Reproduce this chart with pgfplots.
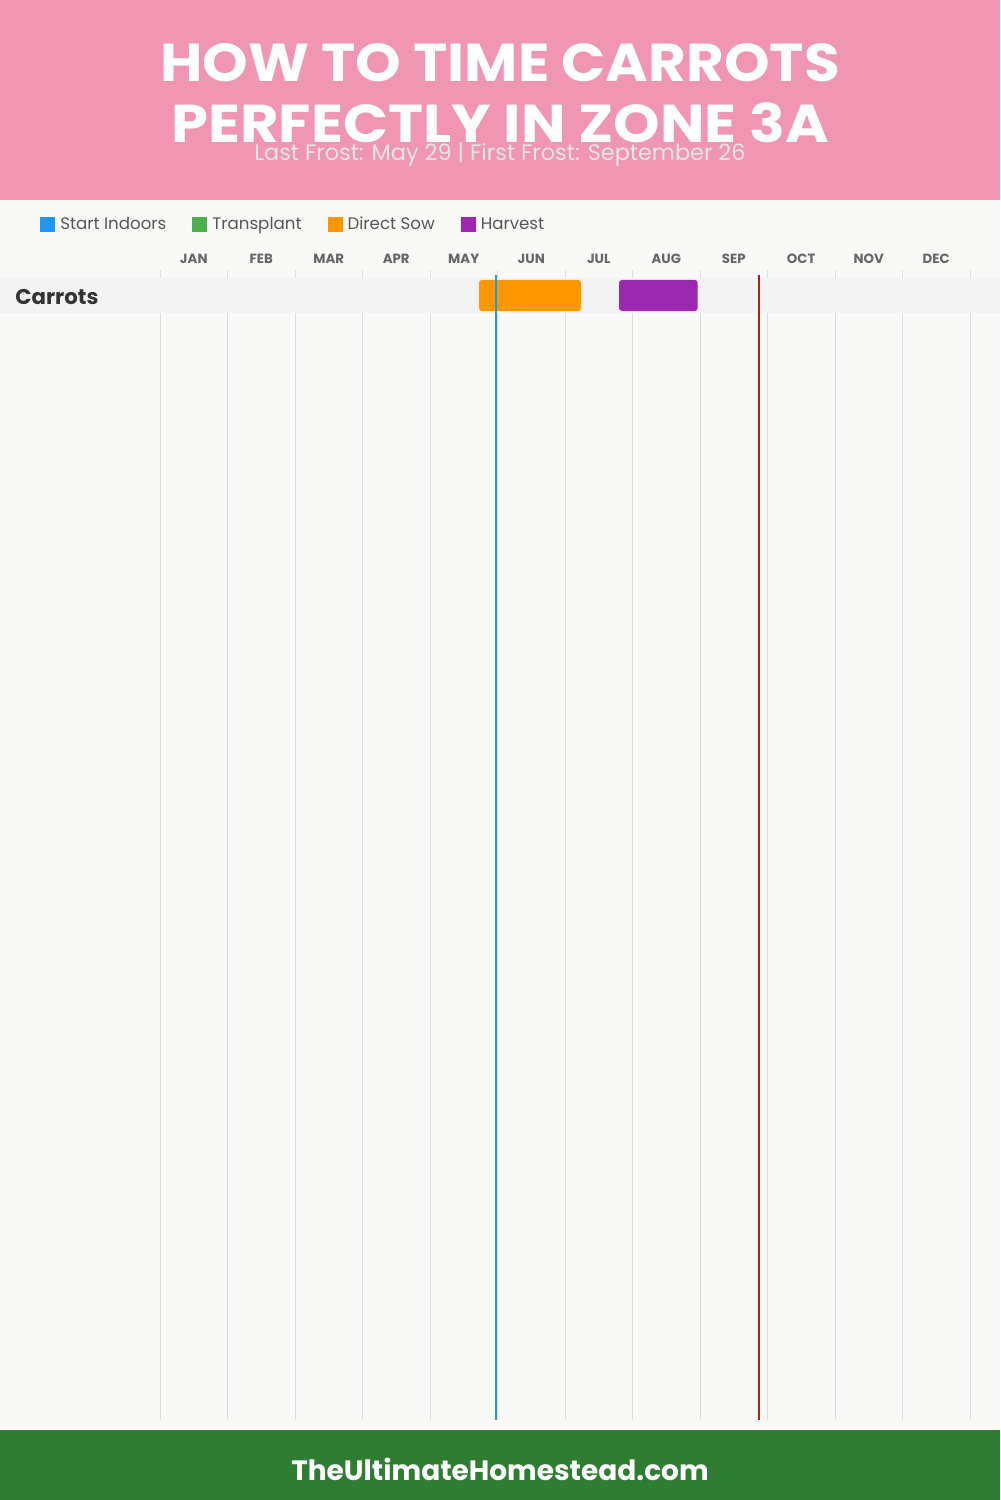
\documentclass[border=0pt]{standalone}
\usepackage{pgfplots}
\pgfplotsset{compat=1.18}
\usepackage{fontspec}
\setmainfont{Poppins}
\definecolor{bg}{HTML}{F9F9F7}
\definecolor{hdr}{HTML}{F095B2}
\definecolor{ftr}{HTML}{2E7D32}
\definecolor{band}{HTML}{F3F3F3}
\definecolor{gridc}{HTML}{DDDDDD}
\definecolor{subc}{HTML}{E6E6E6}
\definecolor{legtext}{HTML}{555555}
\definecolor{monthc}{HTML}{666666}
\definecolor{rowc}{HTML}{333333}
\definecolor{indoorc}{HTML}{2196F3}
\definecolor{transc}{HTML}{4CAF50}
\definecolor{sowc}{HTML}{FF9800}
\definecolor{harvc}{HTML}{9C27B0}
\definecolor{lastfrost}{HTML}{2196F3}
\definecolor{firstfrost}{HTML}{B71C1C}
\begin{document}
\begin{tikzpicture}[x=0.75pt,y=0.75pt]
\fill[bg] (0,0) rectangle (1000,1500);
\fill[hdr] (0,1300) rectangle (1000,1500);
\fill[ftr] (0,0) rectangle (1000,70);
\node[white, font=\fontsize{40}{40}\selectfont\bfseries, anchor=base, inner sep=0] at (500,1418) {\scalebox{1.087}[1]{HOW TO TIME CARROTS}};
\node[white, font=\fontsize{40}{40}\selectfont\bfseries, anchor=base, inner sep=0] at (500,1357) {\scalebox{1.11}[1]{PERFECTLY IN ZONE 3A}};
\node[subc, font=\fontsize{16.8}{16.8}\selectfont, anchor=base, inner sep=0] at (500,1339) {Last Frost: May 29 | First Frost: September 26};
\node[white, font=\fontsize{21}{21}\selectfont\bfseries, anchor=base, inner sep=0] at (500,19) {TheUltimateHomestead.com};
\begin{axis}[
  at={(120pt,60pt)}, anchor=south west, scale only axis,
  width=607.5pt, height=862.5pt,
  xmin=0, xmax=12, ymin=-0.72857, ymax=32.12857, y dir=reverse,
  clip=false,
  axis line style={draw=none},
  major tick style={draw=none}, minor tick style={draw=none},
  xtick={0.5,1.5,2.5,3.5,4.5,5.5,6.5,7.5,8.5,9.5,10.5,11.5},
  xticklabels={JAN,FEB,MAR,APR,MAY,JUN,JUL,AUG,SEP,OCT,NOV,DEC},
  xticklabel pos=upper,
  xticklabel style={font=\fontsize{10}{10}\selectfont\bfseries, text=monthc, anchor=base, yshift=4.5pt, inner sep=0},
  minor xtick={0,1,2,3,4,5,6,7,8,9,10,11,12},
  xminorgrids, minor grid style={color=gridc, line width=0.75pt},
  ytick=\empty,
  legend image code/.code={\fill[#1, draw=none] (0pt,-5.625pt) rectangle (11.25pt,5.625pt);},
  legend columns=4,
  legend style={at={(-0.1531,1.0396)}, anchor=west, draw=none, fill=none,
    font=\fontsize{12.5}{12.5}\selectfont, text=legtext,
    nodes={inner sep=0pt},
    /tikz/every odd column/.append style={column sep=3.75pt},
    /tikz/every even column/.append style={column sep=19.5pt}},
  legend cell align=left,
]
% row band (covers the grid lines)
\addplot[forget plot, fill=band, draw=none] coordinates {(-2.37037,-0.5) (12.44444,-0.5) (12.44444,0.5) (-2.37037,0.5)} -- cycle;
% row name
\node[font=\fontsize{16}{16}\selectfont\bfseries, text=rowc, anchor=base west, inner sep=0, yshift=-6.4pt] at (axis cs:-2.14815,0) {Carrots};
\addlegendimage{fill=indoorc}
\addlegendentry{Start Indoors}
\addlegendimage{fill=transc}
\addlegendentry{Transplant}
\addlegendimage{fill=sowc}
\addlegendentry{Direct Sow}
\addlegendimage{fill=harvc}
\addlegendentry{Harvest}
% Direct Sow
\addplot[forget plot, fill=sowc, draw=none, rounded corners=2.25pt] coordinates {(4.726,-0.443) (6.237,-0.443) (6.237,0.443) (4.726,0.443)} -- cycle;
% Harvest
\addplot[forget plot, fill=harvc, draw=none, rounded corners=2.25pt] coordinates {(6.800,-0.443) (7.966,-0.443) (7.966,0.443) (6.800,0.443)} -- cycle;
% Last frost (May 29)
\addplot[forget plot, color=lastfrost, line width=1.5pt] coordinates {(4.973,-0.586) (4.973,32.12857)};
% First frost (Sep 26)
\addplot[forget plot, color=firstfrost, line width=1.5pt] coordinates {(8.874,-0.586) (8.874,32.12857)};
\end{axis}
\end{tikzpicture}
\end{document}
